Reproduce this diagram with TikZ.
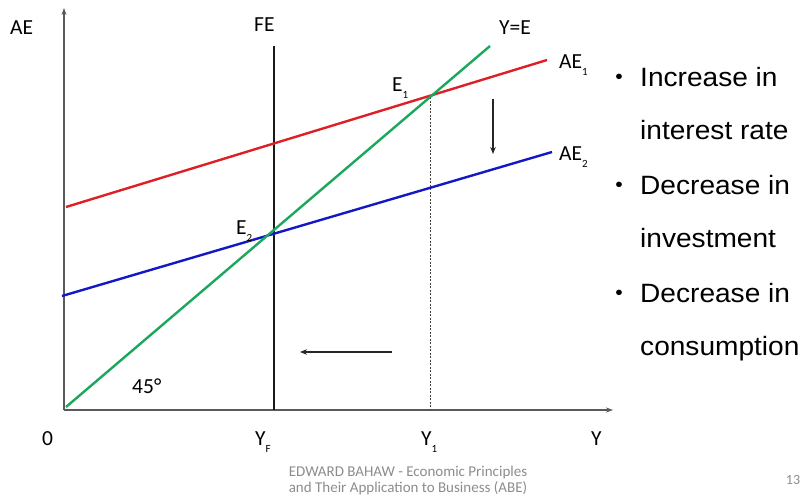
\documentclass[tikz,border=0pt]{standalone}
\usepackage{fontspec}
\setmainfont{Carlito}
\newfontfamily\bulletfont[FakeStretch=1.06]{Liberation Sans}
\usetikzlibrary{arrows.meta}
\definecolor{aered}{RGB}{222,32,38}
\definecolor{aegreen}{RGB}{28,168,92}
\definecolor{aeblue}{RGB}{20,24,196}
\definecolor{axisgray}{RGB}{90,90,90}
\definecolor{footgray}{RGB}{140,140,140}
\newcommand{\lsub}[1]{\raisebox{-0.35em}{\fontsize{11}{11}\selectfont #1}}
\tikzset{
  lbl/.style={inner sep=0pt, anchor=base west, font=\fontsize{21.5}{21.5}\selectfont},
  btxt/.style={inner sep=0pt, anchor=base west, font=\bulletfont\fontsize{26.5}{26.5}\selectfont},
  bdot/.style={inner sep=0pt, anchor=base, font=\bulletfont\fontsize{20}{20}\selectfont},
  foot/.style={inner sep=0pt, anchor=base, text=footgray, font=\fontsize{15}{15}\selectfont},
  curve/.style={line width=2.4pt},
  axisline/.style={line width=1.1pt, draw=axisgray, -{Stealth[length=7pt,width=5pt]}},
  shift arrow/.style={line width=1.1pt, draw=black!85, -{Stealth[length=7pt,width=5.5pt]}}
}
\begin{document}
\begin{tikzpicture}[x=1pt,y=-1pt]
\useasboundingbox (0,0) rectangle (811,498);
% coordinates
\coordinate (O) at (64,410);
\coordinate (ytop) at (64,8);
\coordinate (xend) at (613,410);
\coordinate (g0) at (66,407);
\coordinate (g1) at (490,46);
\coordinate (r0) at (66,207);
\coordinate (r1) at (547,60);
\coordinate (b0) at (62,296);
\coordinate (b1) at (552,152);
\coordinate (fe0) at (274,46);
\coordinate (fe1) at (274,410);
\coordinate (e1pt) at (430,97);
\coordinate (y1base) at (430,410);
\coordinate (da0) at (493,99);
\coordinate (da1) at (493,154);
\coordinate (la0) at (392,352);
\coordinate (la1) at (300,352);
% axes
\draw[axisline] (O) -- (ytop);
\draw[axisline] (O) -- (xend);
% dotted
\draw[line width=0.8pt, dash pattern=on 2pt off 1.5pt, draw=black!75] (e1pt) -- (y1base);
% FE
\draw[line width=2.6pt, draw=black!90] (fe0) -- (fe1);
% curves
\draw[curve, draw=aered] (r0) -- (r1);
\draw[curve, draw=aeblue] (b0) -- (b1);
\draw[curve, draw=aegreen] (g0) -- (g1);
% shift arrows
\draw[shift arrow] (da0) -- (da1);
\draw[shift arrow] (la0) -- (la1);
% labels
\node[lbl] (lAE) at (10,34) {AE};
\node[lbl] (lFE) at (254,31) {FE};
\node[lbl] (lYE) at (499,34) {Y=E};
\node[lbl] (lAE1) at (559,68) {AE\lsub{1}};
\node[lbl] (lAE2) at (559,160) {AE\lsub{2}};
\node[lbl] (lE1) at (392,91) {E\lsub{1}};
\node[lbl] (lE2) at (236,234) {E\lsub{2}};
\node[lbl] (l45) at (132,393) {45°};
\node[lbl] (l0) at (42,445) {0};
\node[lbl] (lYF) at (255,445) {Y\lsub{F}};
\node[lbl] (lY1) at (421,445) {Y\lsub{1}};
\node[lbl] (lY) at (591,445) {Y};
% bullets
\node[bdot] (b1a) at (619,83) {•};
\node[btxt] (t1a) at (640,86) {Increase in};
\node[btxt] (t1b) at (640,139) {interest rate};
\node[bdot] (b2a) at (619,191) {•};
\node[btxt] (t2a) at (640,194) {Decrease in};
\node[btxt] (t2b) at (640,247) {investment};
\node[bdot] (b3a) at (619,299) {•};
\node[btxt] (t3a) at (640,302) {Decrease in};
\node[btxt] (t3b) at (640,355) {consumption};
% footer
\node[foot] (f1) at (408,476) {EDWARD BAHAW - Economic Principles};
\node[foot] (f2) at (408,492) {and Their Application to Business (ABE)};
\node[foot, font=\fontsize{14}{14}\selectfont] (pg) at (793,484) {13};
\end{tikzpicture}
\end{document}
